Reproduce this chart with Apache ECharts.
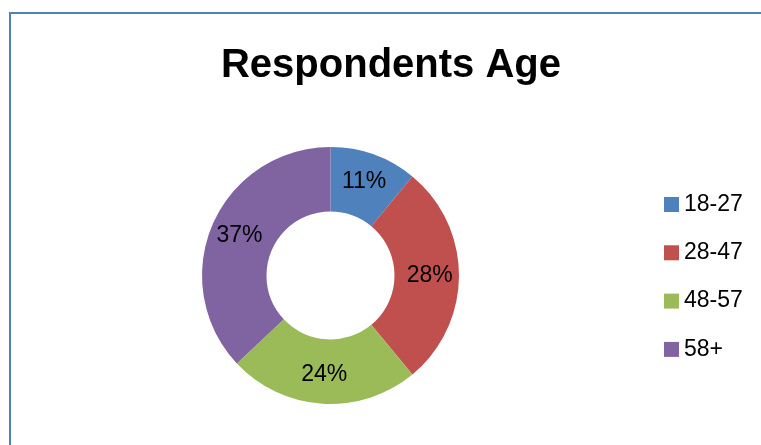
<!DOCTYPE html>
<html>
<head>
<meta charset="utf-8">
<script src="https://cdn.jsdelivr.net/npm/echarts@6/dist/echarts.min.js"></script>
<style>
  html, body { margin: 0; padding: 0; background: #fff; }
  #chart { width: 761px; height: 445px; }
</style>
</head>
<body>
<div id="chart"></div>
<script>
// age groups and their share in percent
const ageGroups = ['18-27', '28-47', '48-57', '58+']
const shares = [11, 28, 24, 37]
const sliceColors = ['#4f81bd', '#c0504d', '#9bbb59', '#8064a2']

const chart = echarts.init(document.getElementById('chart'))

const option = {
  animation: false,
  color: sliceColors,
  title: {
    text: 'Respondents Age',
    left: 391,
    textAlign: 'center',
    top: 46,
    padding: 0,
    textStyle: {
      fontFamily: 'Liberation Sans',
      fontWeight: 'bold',
      fontSize: 40,
      color: '#000'
    }
  },
  legend: {
    orient: 'vertical',
    left: 664,
    top: 193,
    padding: 0,
    itemWidth: 15,
    itemHeight: 15,
    itemGap: 25.3,
    icon: 'rect',
    textStyle: {
      fontFamily: 'Liberation Sans',
      fontSize: 23,
      color: '#000'
    },
    data: ageGroups
  },
  graphic: [
    {
      // the chart area frame (only left and top edges are visible)
      type: 'polyline',
      shape: { points: [[10, 445], [10, 13], [761, 13]] },
      style: { stroke: '#4f81bd', lineWidth: 2, fill: null }
    }
  ],
  series: [
    {
      type: 'pie',
      center: [330.5, 275.5],
      radius: [64, 128.5],
      startAngle: 90,
      clockwise: true,
      avoidLabelOverlap: false,
      itemStyle: { borderWidth: 0 },
      label: {
        show: true,
        position: 'inside',
        formatter: '{c}%',
        fontFamily: 'Liberation Sans',
        fontSize: 23,
        padding: [4, 0, 0, 0],
        color: '#000'
      },
      labelLine: { show: false },
      emphasis: { disabled: true },
      data: ageGroups.map((name, i) => ({ name: name, value: shares[i] }))
    }
  ]
}

chart.setOption(option)
</script>
</body>
</html>
